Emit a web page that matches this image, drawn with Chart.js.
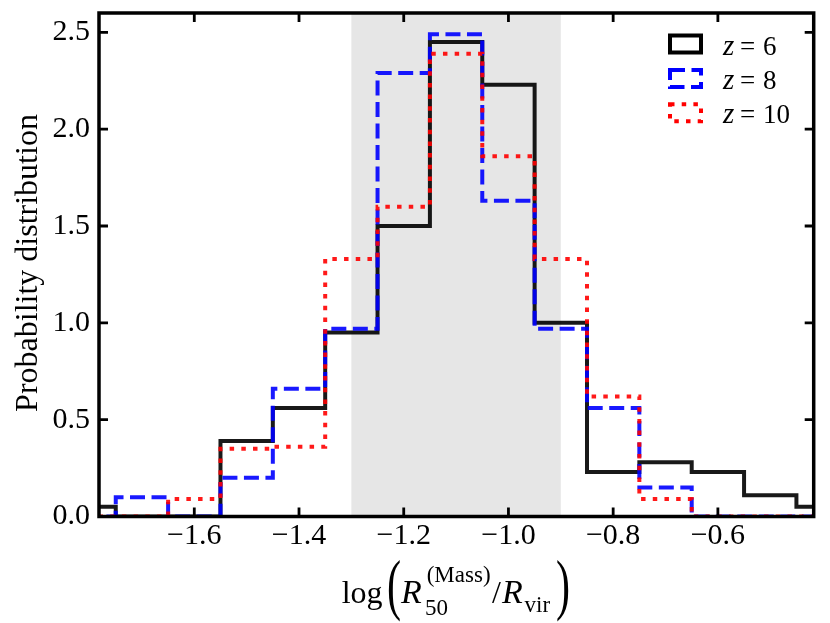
<!DOCTYPE html>
<html><head><meta charset="utf-8">
<script src="https://cdn.jsdelivr.net/npm/chart.js@4.4.1/dist/chart.umd.min.js"></script>
<style>html,body{margin:0;padding:0;background:#fff;}canvas{display:block;}</style>
</head><body>
<canvas id="c" width="830" height="623"></canvas>
<script>
const binEdges = [-1.85,-1.75,-1.65,-1.55,-1.45,-1.35,-1.25,-1.15,-1.05,-0.95,-0.85,-0.75,-0.65,-0.55,-0.45,-0.35];
const z6 = [0.05,0,0,0.39,0.56,0.95,1.50,2.45,2.23,1.00,0.23,0.28,0.23,0.11,0.05];
const z8 = [0,0.10,0,0.20,0.66,0.97,2.29,2.49,1.63,0.97,0.56,0.15,0,0,0];
const z10 = [0,0,0.09,0.35,0.36,1.33,1.60,2.39,1.86,1.33,0.62,0.09,0,0,0];
const redshifts = ['6','8','10'];
const xTicks = [-1.6,-1.4,-1.2,-1.0,-0.8,-0.6];
const yTicks = [0,0.5,1.0,1.5,2.0,2.5];
const shadeRange = [-1.3,-0.9];
const xRange = [-1.782,-0.417];
const yRange = [0,2.6];

const SERIF = '"Liberation Serif","DejaVu Serif",serif';
const colors = ['rgba(0,0,0,0.9)','rgba(0,0,255,0.9)','rgba(255,0,0,0.9)'];
const solid = ['#000','#00f','#f00'];
const dashes = [[],[15,6.5],[4.5,7.2]];
const LW = 4;

function stepPoints(vals){
  const pts=[{x:binEdges[0],y:0}];
  vals.forEach((v,i)=>{pts.push({x:binEdges[i],y:v});pts.push({x:binEdges[i+1],y:v});});
  pts.push({x:binEdges[vals.length],y:0});
  return pts;
}
function fmt(v){const r=Math.round(v*10)/10;return (r<0?'\u2212':'')+Math.abs(r).toFixed(1);}

const series=[z6,z8,z10];
const datasets=series.map((s,i)=>({
  label:'z = '+redshifts[i],
  data:stepPoints(s),
  borderColor:colors[i],
  borderWidth:LW,
  borderDash:dashes[i],
  borderCapStyle:'butt',
  borderJoinStyle:'miter',
  pointRadius:0,
  fill:false,
  tension:0,
  clip:0,
  order:3-i
}));

const deco={
  id:'deco',
  beforeDatasetsDraw(chart){
    const {ctx,chartArea:a,scales:{x}}=chart;
    ctx.save();
    ctx.fillStyle='rgba(128,128,128,0.2)';
    const x0=x.getPixelForValue(shadeRange[0]),x1=x.getPixelForValue(shadeRange[1]);
    ctx.fillRect(x0,a.top,x1-x0,a.bottom-a.top);
    ctx.restore();
  },
  afterDatasetsDraw(chart){
    const {ctx,chartArea:a,scales:{x,y}}=chart;
    ctx.save();
    ctx.strokeStyle='#000';
    ctx.lineWidth=2.8;
    const TL=9;
    ctx.beginPath();
    xTicks.forEach(v=>{const p=x.getPixelForValue(v);ctx.moveTo(p,a.bottom);ctx.lineTo(p,a.bottom-TL);ctx.moveTo(p,a.top);ctx.lineTo(p,a.top+TL);});
    yTicks.forEach(v=>{const p=y.getPixelForValue(v);ctx.moveTo(a.left,p);ctx.lineTo(a.left+TL,p);ctx.moveTo(a.right,p);ctx.lineTo(a.right-TL,p);});
    ctx.stroke();
    ctx.lineWidth=3.5;
    ctx.strokeRect(a.left,a.top,a.right-a.left,a.bottom-a.top);
    ctx.restore();
  },
  afterDraw(chart){
    const ctx=chart.ctx;
    ctx.save();
    ctx.fillStyle='#000';
    ctx.textBaseline='alphabetic';
    // legend
    const rows=[44,78.4,112.8];
    rows.forEach((cy,i)=>{
      ctx.save();
      ctx.strokeStyle=solid[i];
      ctx.lineWidth=LW;
      ctx.setLineDash(dashes[i]);
      ctx.lineCap='butt';
      ctx.strokeRect(670,cy-8.5,31,17);
      ctx.restore();
      ctx.textAlign='left';
      ctx.font='italic 29px '+SERIF;
      ctx.fillText('z',723,cy+10.5);
      ctx.font='27px '+SERIF;
      ctx.fillText('=',740,cy+10.5);
      ctx.fillText(redshifts[i],763,cy+10.5);
    });
    // y title
    ctx.save();
    ctx.translate(36.7,263);
    ctx.rotate(-Math.PI/2);
    ctx.textAlign='center';
    ctx.font='32px '+SERIF;
    ctx.fillText('Probability distribution',0,0);
    ctx.restore();
    // x title
    ctx.textAlign='left';
    ctx.font='32px '+SERIF;
    ctx.fillText('log',341.7,603);
    const paren=(ch,px)=>{ctx.save();ctx.translate(px,607);ctx.scale(0.62,1);ctx.font='68px '+SERIF;ctx.fillText(ch,0,0);ctx.restore();};
    paren('(',387);
    ctx.font='italic 34px '+SERIF;
    ctx.fillText('R',401,603);
    ctx.font='23px '+SERIF;
    ctx.fillText('(Mass)',426.7,581.5);
    ctx.fillText('50',425,615);
    ctx.font='32px '+SERIF;
    ctx.fillText('/',492,603);
    ctx.font='italic 34px '+SERIF;
    ctx.fillText('R',502,603);
    ctx.font='23px '+SERIF;
    ctx.fillText('vir',524.5,611.5);
    paren(')',556);
    ctx.restore();
  }
};

new Chart(document.getElementById('c'),{
  type:'line',
  data:{datasets},
  options:{
    responsive:false,
    animation:false,
    devicePixelRatio:1,
    layout:{padding:{top:13,right:16.3,left:0,bottom:0}},
    plugins:{legend:{display:false},tooltip:{enabled:false}},
    scales:{
      x:{type:'linear',min:xRange[0],max:xRange[1],
        grid:{display:false,drawTicks:false},border:{display:false},
        afterBuildTicks:s=>{s.ticks=xTicks.map(v=>({value:v}));},
        afterFit:s=>{s.height=106.5;s.paddingLeft=0;s.paddingRight=0;},
        ticks:{font:{family:SERIF,size:30},color:'#000',padding:2,maxRotation:0,autoSkip:false,callback:v=>fmt(v)}
      },
      y:{type:'linear',min:yRange[0],max:yRange[1],
        grid:{display:false,drawTicks:false},border:{display:false},
        afterBuildTicks:s=>{s.ticks=yTicks.map(v=>({value:v}));},
        afterFit:s=>{s.width=99;s.paddingTop=0;s.paddingBottom=0;},
        ticks:{font:{family:SERIF,size:30},color:'#000',padding:9,autoSkip:false,callback:v=>fmt(v)}
      }
    }
  },
  plugins:[deco]
});
</script>
</body></html>
